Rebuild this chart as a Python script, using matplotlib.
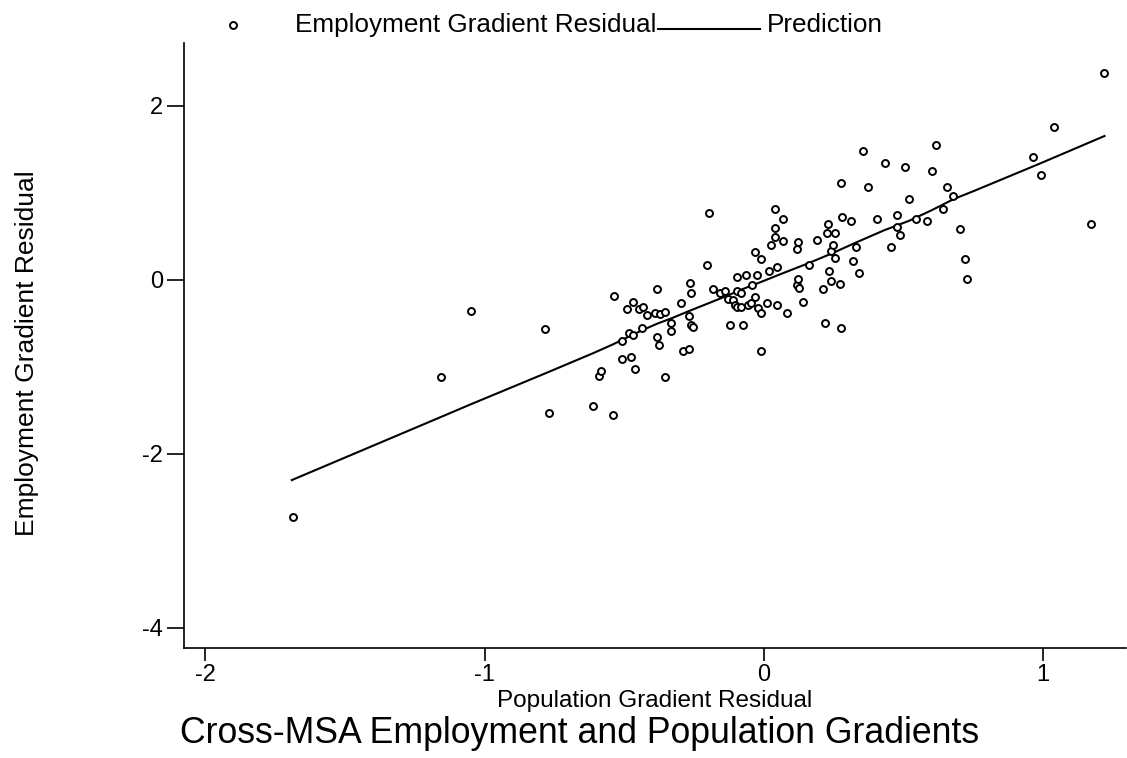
import matplotlib
matplotlib.use("Agg")
import matplotlib.pyplot as plt
from matplotlib.lines import Line2D

plt.rcParams['font.family'] = ['Liberation Sans', 'DejaVu Sans']

# scatter: population gradient residual (x) vs employment gradient residual (y)
pop_resid = [-1.687, -1.157, -1.048, -0.783, -0.769, -0.613, -0.590, -0.583, -0.541, -0.537,
             -0.509, -0.509, -0.491, -0.483, -0.477, -0.469, -0.469, -0.461, -0.448, -0.436,
             -0.431, -0.419, -0.390, -0.382, -0.381, -0.375, -0.371, -0.354, -0.353, -0.333,
             -0.333, -0.298, -0.290, -0.268, -0.268, -0.265, -0.261, -0.261, -0.253, -0.203,
             -0.197, -0.182, -0.156, -0.139, -0.128, -0.121, -0.109, -0.103, -0.096, -0.096,
             -0.096, -0.082, -0.082, -0.074, -0.064, -0.057, -0.046, -0.042, -0.032, -0.032,
             -0.025, -0.020, -0.010, -0.010, -0.010, 0.011, 0.019, 0.026, 0.040, 0.040,
             0.040, 0.047, 0.047, 0.069, 0.069, 0.082, 0.118, 0.118, 0.122, 0.122,
             0.127, 0.140, 0.162, 0.190, 0.211, 0.218, 0.225, 0.230, 0.232, 0.240,
             0.240, 0.247, 0.255, 0.255, 0.272, 0.276, 0.276, 0.279, 0.311, 0.318,
             0.329, 0.340, 0.354, 0.372, 0.405, 0.433, 0.454, 0.476, 0.476, 0.487,
             0.504, 0.520, 0.544, 0.584, 0.601, 0.615, 0.641, 0.655, 0.676, 0.701,
             0.719, 0.726, 0.963, 0.991, 1.038, 1.170, 1.217]
emp_resid = [-2.720, -1.115, -0.356, -0.563, -1.529, -1.448, -1.103, -1.043, -1.552, -0.184,
             -0.701, -0.908, -0.333, -0.606, -0.885, -0.253, -0.629, -1.020, -0.333, -0.555,
             -0.305, -0.402, -0.379, -0.100, -0.652, -0.744, -0.387, -1.115, -0.371, -0.491,
             -0.583, -0.264, -0.813, -0.417, -0.793, -0.034, -0.153, -0.514, -0.540, 0.172,
             0.774, -0.103, -0.153, -0.126, -0.222, -0.514, -0.230, -0.284, 0.034, -0.126,
             -0.307, -0.153, -0.307, -0.514, 0.057, -0.291, -0.268, -0.054, 0.322, -0.192,
             0.057, -0.325, 0.241, -0.379, -0.813, -0.264, 0.107, 0.402, 0.816, 0.598,
             0.494, 0.149, -0.284, 0.701, 0.448, -0.379, 0.353, -0.061, 0.437, 0.015,
             -0.092, -0.253, 0.172, 0.460, -0.103, -0.491, 0.544, 0.640, 0.107, 0.337,
             -0.008, 0.406, 0.544, 0.253, -0.046, 1.118, -0.548, 0.728, 0.678, 0.218,
             0.379, 0.080, 1.486, 1.072, 0.701, 1.348, 0.383, 0.751, 0.606, 0.517,
             1.302, 0.934, 0.698, 0.678, 1.256, 1.552, 0.816, 1.069, 0.966, 0.586,
             0.241, 0.011, 1.414, 1.207, 1.759, 0.644, 2.383]

# prediction line
pred_x = [-1.69, -1.16, -1.05, -0.78, -0.61, -0.54, -0.47, -0.43, -0.38, -0.33, -0.27, -0.20,
          -0.13, -0.08, 0.00, 0.07, 0.15, 0.24, 0.33, 0.43, 0.52, 0.60, 0.68, 0.75, 0.99, 1.22]
pred_y = [-2.30, -1.58, -1.43, -1.07, -0.84, -0.74, -0.63, -0.57, -0.50, -0.44, -0.36, -0.27,
          -0.18, -0.11, -0.01, 0.08, 0.18, 0.30, 0.43, 0.57, 0.68, 0.80, 0.93, 1.02, 1.34, 1.655]

x_ticks = [-2, -1, 0, 1]
y_ticks = [-4, -2, 0, 2]

fig = plt.figure(figsize=(11.27, 7.58), dpi=100)
ax = fig.add_axes([184 / 1127, 1 - 648 / 758, 942 / 1127, 605 / 758])

ax.plot(pred_x, pred_y, color='black', lw=1.5)
ax.plot(pop_resid, emp_resid, ls='none', marker='o', ms=5, mfc='white', mec='black', mew=1.4)

ax.set_xlim(-2.076, 1.297)
ax.set_ylim(-4.23, 2.724)
ax.set_xticks(x_ticks)
ax.set_yticks(y_ticks)
ax.set_xticklabels([str(t) for t in x_ticks])
ax.set_yticklabels([str(t) for t in y_ticks])

for s in ['top', 'right']:
    ax.spines[s].set_visible(False)
for s in ['left', 'bottom']:
    ax.spines[s].set_linewidth(1.2)
ax.tick_params(axis='x', direction='out', length=9.5, width=1.2, labelsize=17, pad=2)
ax.tick_params(axis='y', direction='out', length=12, width=1.2, labelsize=17, pad=3)

# axis titles and caption
fig.text(655 / 1127, 1 - 707 / 758, 'Population Gradient Residual', ha='center', va='baseline', fontsize=17.5)
fig.text(580 / 1127, 1 - 743 / 758, 'Cross-MSA Employment and Population Gradients',
         ha='center', va='baseline', fontsize=25.7)
fig.text(27 / 1127, 1 - 353 / 758, 'Employment Gradient Residual', ha='center', va='center',
         rotation=90, fontsize=19)

# legend row at the top
ly = 1 - 25 / 758
fig.add_artist(Line2D([233 / 1127], [ly], transform=fig.transFigure, ls='none', marker='o',
                      ms=5, mfc='white', mec='black', mew=1.4))
fig.text(295 / 1127, ly, 'Employment Gradient Residual', ha='left', va='center', fontsize=18.8)
fig.add_artist(Line2D([658 / 1127, 760 / 1127], [1 - 29 / 758, 1 - 29 / 758],
                      transform=fig.transFigure, color='black', lw=1.5))
fig.text(767 / 1127, ly, 'Prediction', ha='left', va='center', fontsize=18.8)

fig.savefig('out.png', dpi=100)
